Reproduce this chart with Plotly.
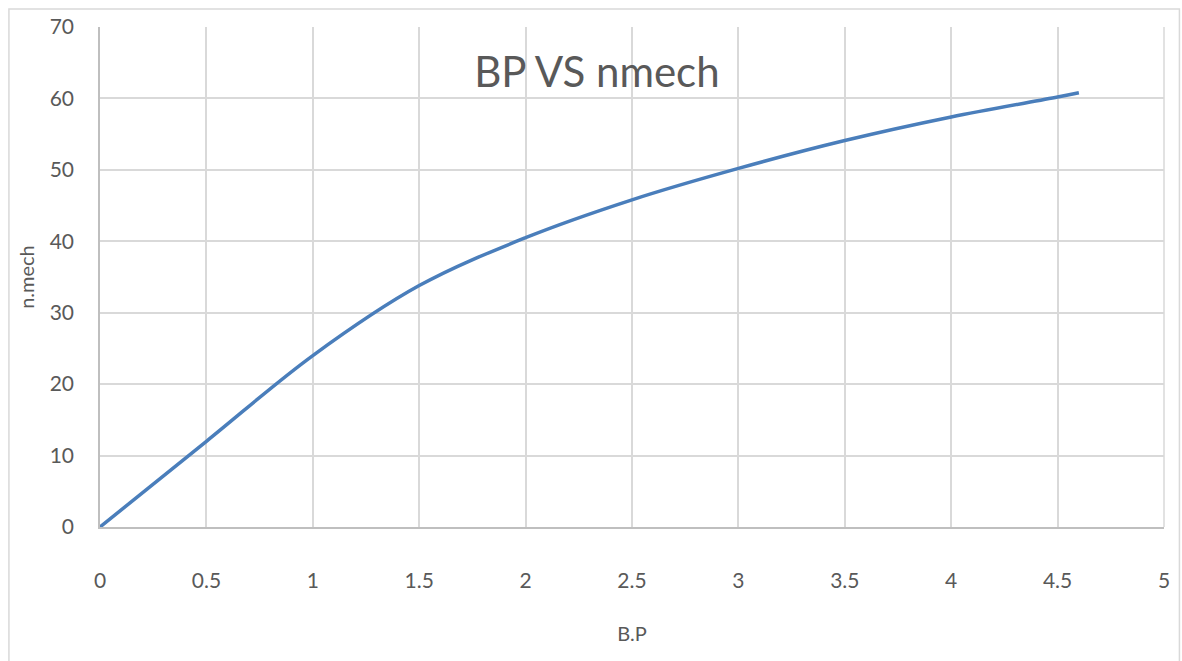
import plotly.graph_objects as go

bp = [0, 0.5, 1, 1.5, 2, 2.5, 3, 3.5, 4, 4.5, 4.6]
nmech = [0, 12.0, 24.0, 33.8, 40.5, 45.8, 50.2, 54.1, 57.4, 60.2, 60.8]

x_ticks = [0, 0.5, 1, 1.5, 2, 2.5, 3, 3.5, 4, 4.5, 5]
x_labels = ["0", "0.5", "1", "1.5", "2", "2.5", "3", "3.5", "4", "4.5", "5"]
y_ticks = [0, 10, 20, 30, 40, 50, 60, 70]

txt = "#595959"
grid = "#d9d9d9"
font_fam = "Lato, Open Sans, sans-serif"

fig = go.Figure()
fig.add_trace(go.Scatter(
    x=bp, y=nmech, mode="lines",
    line=dict(color="#4a7ebb", width=3.5, shape="spline", smoothing=1.0),
    showlegend=False, hoverinfo="skip"))

fig.update_layout(
    width=1182, height=661,
    paper_bgcolor="white", plot_bgcolor="white",
    margin=dict(l=100, r=16, t=27, b=134),
    title=dict(text="BP VS nmech", x=0.505, xanchor="center", y=0.89, yanchor="middle",
               font=dict(family=font_fam, size=42, color=txt)),
    font=dict(family=font_fam, color=txt),
    xaxis=dict(range=[0, 5], tickvals=x_ticks, ticktext=x_labels,
               showgrid=True, gridcolor=grid, gridwidth=1.5,
               showline=True, linecolor="#bfbfbf", linewidth=1.5, mirror=False,
               zeroline=False, ticks="outside", ticklen=34, tickcolor="rgba(0,0,0,0)",
               tickfont=dict(size=21, color=txt),
               title=dict(text="B.P", font=dict(size=20, color=txt), standoff=36)),
    yaxis=dict(range=[0, 70], tickvals=y_ticks,
               showgrid=True, gridcolor=grid, gridwidth=1.5,
               showline=True, linecolor="#bfbfbf", linewidth=1.5,
               zeroline=False, ticks="outside", ticklen=20, tickcolor="rgba(0,0,0,0)",
               tickfont=dict(size=21, color=txt),
               title=dict(text="n.mech", font=dict(size=20, color=txt), standoff=10)),
    shapes=[
        dict(type="line", xref="paper", yref="paper", x0=1, x1=1, y0=0, y1=1,
             line=dict(color=grid, width=1.5), layer="below"),
        dict(type="rect", xref="paper", yref="paper",
             x0=-0.0856, x1=1.0145, y0=-0.3, y1=1.036,
             line=dict(color=grid, width=1.5), fillcolor="rgba(0,0,0,0)"),
    ],
)

fig.write_html("out.html")
